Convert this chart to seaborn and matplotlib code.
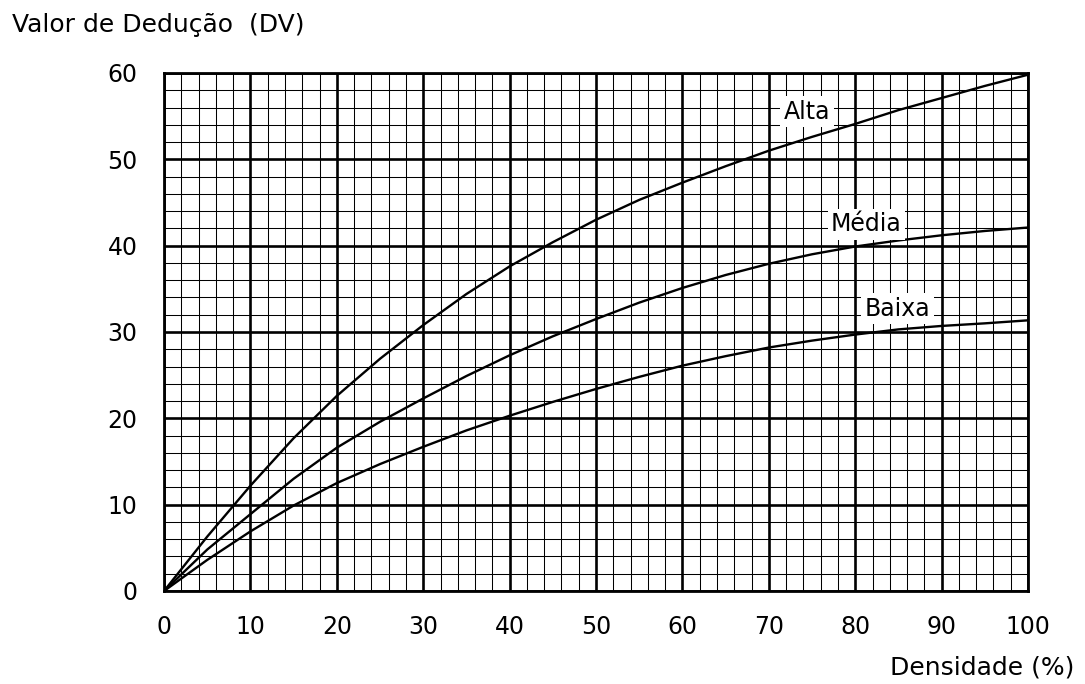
import matplotlib
matplotlib.use("Agg")
import matplotlib.pyplot as plt
import seaborn as sns
import numpy as np
import pandas as pd

# dados (densidade %, valor de dedução)
densidade = [0, 5, 10, 15, 20, 25, 30, 35, 40, 45, 50,
             55, 60, 65, 70, 75, 80, 85, 90, 95, 100]
dv_alta = [0, 6.3, 12.2, 17.7, 22.6, 26.9, 30.8, 34.4, 37.6, 40.4, 43.0,
           45.3, 47.3, 49.2, 51.0, 52.6, 54.1, 55.7, 57.1, 58.5, 59.8]
dv_media = [0, 4.8, 8.9, 13.0, 16.6, 19.6, 22.3, 24.9, 27.3, 29.5, 31.5,
            33.4, 35.1, 36.6, 37.9, 39.0, 39.9, 40.6, 41.2, 41.7, 42.1]
dv_baixa = [0, 3.6, 6.9, 9.9, 12.5, 14.7, 16.7, 18.6, 20.3, 21.9, 23.4,
            24.8, 26.1, 27.2, 28.2, 29.0, 29.7, 30.3, 30.7, 31.0, 31.35]

severidades = ['Alta', 'Média', 'Baixa']
rotulo_x = [74.4, 81.3, 84.9]
rotulo_y = [55.5, 42.5, 32.7]

x_ticks = list(range(0, 101, 10))
y_ticks = list(range(0, 61, 10))

df = pd.DataFrame({
    'Densidade': densidade * 3,
    'DV': dv_alta + dv_media + dv_baixa,
    'Severidade': np.repeat(severidades, len(densidade)),
})

sns.set_style("white")
plt.rcParams['font.family'] = ['DejaVu Sans']
plt.rcParams['text.color'] = 'black'

fig = plt.figure(figsize=(10.85, 6.84), dpi=100)
ax = fig.add_axes([0.1512, 0.1360, 0.7963, 0.7573])

sns.lineplot(data=df, x='Densidade', y='DV', hue='Severidade',
             palette=['black'] * 3, linewidth=1.7, legend=False, ax=ax,
             zorder=5)

ax.set_xlim(0, 100)
ax.set_ylim(0, 60)
ax.set_xticks(x_ticks)
ax.set_yticks(y_ticks)
ax.set_xticks(np.arange(0, 101, 2), minor=True)
ax.set_yticks(np.arange(0, 61, 2), minor=True)

# grade tipo papel milimetrado
ax.grid(which='major', color='black', linewidth=1.9, zorder=1)
ax.grid(which='minor', color='black', linewidth=0.75, zorder=1)
ax.set_axisbelow(True)

for s in ax.spines.values():
    s.set_color('black')
    s.set_linewidth(2)

ax.tick_params(which='minor', length=0)
ax.tick_params(axis='y', which='major', direction='out', length=6, width=1.8,
               pad=13, labelsize=17, colors='black')
ax.tick_params(axis='x', which='major', direction='out', length=4.5, width=1.8,
               pad=13, labelsize=17, colors='black')

ax.set_xlabel('')
ax.set_ylabel('')

for nome, xr, yr in zip(severidades, rotulo_x, rotulo_y):
    ax.text(xr, yr, nome, fontsize=17, ha='center', va='center', zorder=6,
            bbox=dict(facecolor='white', edgecolor='none', pad=2.5))

fig.text(12 / 1085, 1 - 25 / 684, 'Valor de Dedução  (DV)', fontsize=18,
         ha='left', va='center')
fig.text(1074 / 1085, 1 - 667 / 684, 'Densidade (%)', fontsize=18,
         ha='right', va='center')

plt.savefig('out.png', dpi=100)
